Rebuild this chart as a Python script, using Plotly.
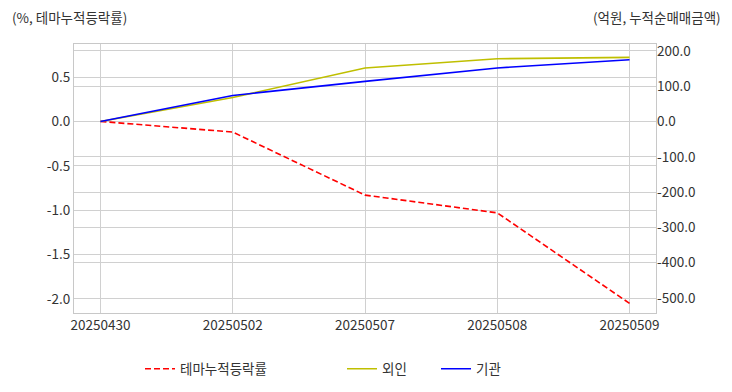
import plotly.graph_objects as go

dates = ["20250430", "20250502", "20250507", "20250508", "20250509"]
theme_cum = [0.0, -0.12, -0.83, -1.03, -2.05]
foreign = [0.0, 68.0, 152.0, 178.0, 182.0]
institution = [0.0, 74.0, 114.0, 152.0, 175.0]

left_ticks = [0.5, 0.0, -0.5, -1.0, -1.5, -2.0]
right_ticks = [200, 100, 0, -100, -200, -300, -400, -500]

x = list(range(len(dates)))
FONT = "Noto Sans CJK KR"
GRID = "#d0d0d0"
TXT = "#333333"
FS = 13.5

# page offset of the plot div (default body margin)
OFF = 8
W, H = 732 - OFF, 392 - OFF
# plot area in page pixels: left 74, right 656, top 44, bottom 313
L = 74 - OFF
T = 44 - OFF
R = W - (656 - OFF)
B = H - (313 - OFF)

fig = go.Figure()
fig.add_trace(go.Scatter(x=x, y=theme_cum, name="테마누적등락률", mode="lines",
                         line=dict(color="#ff0000", width=1.6, dash="6px,3px"),
                         yaxis="y", legend="legend", showlegend=True))
fig.add_trace(go.Scatter(x=x, y=foreign, name="외인", mode="lines",
                         line=dict(color="#bfbf00", width=1.6),
                         yaxis="y2", legend="legend2", showlegend=True))
fig.add_trace(go.Scatter(x=x, y=institution, name="기관", mode="lines",
                         line=dict(color="#0000ff", width=1.6),
                         yaxis="y2", legend="legend3", showlegend=True))

def cx(page_x):
    return (page_x - OFF) / W

def cy(page_y):
    return 1 - (page_y - OFF) / H

pw = W - L - R
ph = H - T - B

def px_paper_x(page_x):
    return (page_x - OFF - L) / pw

def px_paper_y(page_y):
    return 1 - (page_y - OFF - T) / ph

leg_common = dict(orientation="h", xanchor="left", yanchor="middle",
                  font=dict(family=FONT, size=FS, color=TXT),
                  bgcolor="rgba(0,0,0,0)", xref="container", yref="container")

fig.update_layout(
    width=W, height=H,
    margin=dict(l=L, r=R, t=T, b=B, autoexpand=False),
    showlegend=True,
    paper_bgcolor="white", plot_bgcolor="white",
    font=dict(family=FONT, size=FS, color=TXT),
    xaxis=dict(tickvals=x, ticktext=dates, range=[-0.2, 4.2], automargin=False,
               showgrid=True, gridcolor=GRID, gridwidth=1,
               showline=True, linecolor="#c8c8c8", linewidth=1.2, mirror=True,
               ticks="", zeroline=False, tickfont=dict(size=FS, color=TXT)),
    yaxis=dict(tickvals=left_ticks, ticktext=[f"{v:.1f}" for v in left_ticks],
               range=[-2.158, 0.872], automargin=False,
               showgrid=True, gridcolor=GRID, gridwidth=1,
               showline=True, linecolor="#c8c8c8", linewidth=1.2, mirror=True,
               ticks="", zeroline=False, tickfont=dict(size=FS, color=TXT)),
    yaxis2=dict(tickvals=right_ticks, ticktext=[f"{v:.1f}" for v in right_ticks],
                range=[-542.5, 219.8],
                overlaying="y", side="right", automargin=False,
                showgrid=True, gridcolor=GRID, gridwidth=1,
                showline=False, ticks="", zeroline=False,
                tickfont=dict(size=FS, color=TXT)),
    legend=dict(x=cx(140), y=cy(369), **leg_common),
    legend2=dict(x=cx(342), y=cy(369), **leg_common),
    legend3=dict(x=cx(436), y=cy(369), **leg_common),
    annotations=[
        dict(text="(%, 테마누적등락률)", xref="paper", yref="paper",
             x=px_paper_x(10), y=px_paper_y(17),
             xanchor="left", yanchor="middle", showarrow=False,
             font=dict(family=FONT, size=FS, color=TXT)),
        dict(text="(억원, 누적순매매금액)", xref="paper", yref="paper",
             x=px_paper_x(723), y=px_paper_y(17),
             xanchor="right", yanchor="middle", showarrow=False,
             font=dict(family=FONT, size=FS, color=TXT)),
    ],
)

fig.write_html("out.html")
